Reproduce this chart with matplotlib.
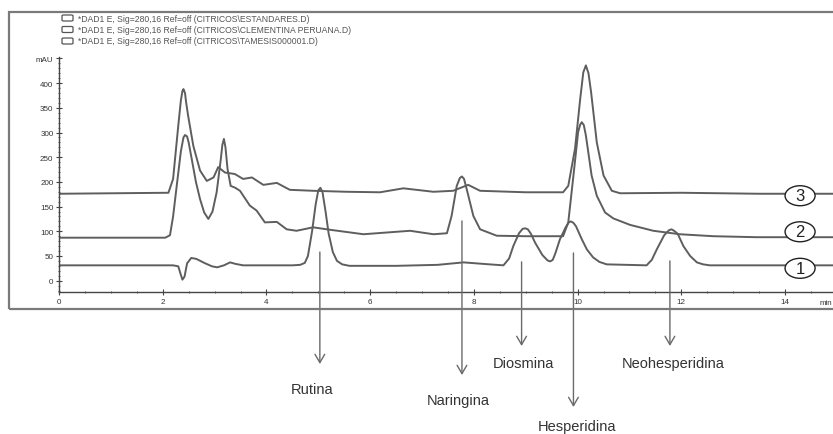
#!/usr/bin/env python3
"""Cromatograma HPLC (DAD1 E, 280 nm) de flavonoides en cítricos."""

import matplotlib

matplotlib.use("Agg")
import matplotlib.pyplot as plt
from matplotlib.patches import Ellipse, FancyBboxPatch, Rectangle

# --- datos (min, mAU) ---
t1 = [0.0, 2.2, 2.30, 2.34, 2.38, 2.42, 2.47, 2.55, 2.65, 2.8, 2.95, 3.05, 3.18,
      3.3, 3.4, 3.55, 4.5, 4.65, 4.74, 4.8, 4.88, 4.95, 5.0, 5.04, 5.08, 5.14,
      5.2, 5.28, 5.36, 5.46, 5.6, 6.5, 7.3, 7.8, 8.3, 8.57, 8.68, 8.76, 8.87,
      8.94, 8.99, 9.04, 9.1, 9.18, 9.32, 9.42, 9.47, 9.52, 9.57, 9.66, 9.77,
      9.83, 9.87, 9.92, 9.97, 10.08, 10.18, 10.30, 10.42, 10.56, 11.33, 11.43,
      11.53, 11.67, 11.76, 11.81, 11.86, 11.93, 12.04, 12.17, 12.30, 12.42,
      12.55, 15.0]
y1 = [31, 31, 29, 15, 2, 8, 35, 46, 44, 36, 29, 27, 31,
      37, 34, 31, 31, 32, 36, 50, 100, 155, 183, 188, 180, 140,
      95, 58, 40, 33, 30, 30, 32, 37, 33, 31, 45, 70, 96,
      105, 106, 104, 95, 77, 52, 41, 39, 42, 55, 84, 108,
      118, 120, 117, 110, 84, 63, 47, 38, 33, 31, 42,
      64, 92, 102, 104, 101, 95, 70, 50, 37, 33,
      31, 31]

t2 = [0.0, 2.05, 2.14, 2.20, 2.27, 2.35, 2.40, 2.43, 2.47, 2.50, 2.56, 2.64, 2.72,
      2.80, 2.88, 2.96, 3.04, 3.12, 3.15, 3.18, 3.21, 3.25, 3.31, 3.40, 3.49,
      3.68, 3.81, 3.97, 4.2, 4.39, 4.58, 4.90, 5.23, 5.87, 6.77, 7.22, 7.48,
      7.57, 7.67, 7.73, 7.77, 7.81, 7.86, 7.99, 8.12, 8.44, 9.0, 9.72, 9.82,
      9.92, 10.01, 10.05, 10.08, 10.12, 10.16, 10.27, 10.37, 10.53, 10.69,
      11.01, 11.46, 11.97, 12.62, 13.45, 15.0]
y2 = [87, 87, 92, 130, 192, 262, 290, 295, 292, 280, 246, 200, 165,
      138, 125, 140, 179, 246, 275, 287, 270, 226, 192, 188, 182,
      152, 142, 118, 119, 104, 101, 108, 103, 94, 101, 94, 96,
      131, 192, 208, 211, 206, 186, 131, 104, 91, 90, 90, 118,
      213, 301, 316, 321, 315, 294, 213, 172, 138, 126,
      113, 101, 94, 90, 88, 88]

t3 = [0.0, 2.11, 2.20, 2.25, 2.30, 2.35, 2.38, 2.40, 2.43, 2.45, 2.49, 2.59, 2.72,
      2.85, 2.98, 3.07, 3.20, 3.39, 3.55, 3.72, 3.94, 4.2, 4.45, 4.9, 5.55,
      6.19, 6.64, 7.22, 7.60, 7.89, 8.12, 9.0, 9.72, 9.82, 9.95, 10.05, 10.11,
      10.16, 10.21, 10.26, 10.37, 10.50, 10.66, 10.82, 12.0, 13.5, 15.0]
y3 = [176, 178, 206, 260, 314, 365, 384, 388, 380, 362, 334, 273, 223,
      202, 209, 230, 219, 216, 206, 209, 194, 198, 184, 182, 180,
      179, 187, 180, 182, 194, 182, 179, 179, 192, 267, 368, 422,
      436, 420, 382, 280, 213, 182, 177, 178, 176, 176]

legend_labels = [
    "*DAD1 E, Sig=280,16 Ref=off (CITRICOS\\ESTANDARES.D)",
    "*DAD1 E, Sig=280,16 Ref=off (CITRICOS\\CLEMENTINA PERUANA.D)",
    "*DAD1 E, Sig=280,16 Ref=off (CITRICOS\\TAMESIS000001.D)",
]
trace_tags = ["1", "2", "3"]

compounds = ["Rutina", "Naringina", "Diosmina", "Hesperidina", "Neohesperidina"]
compound_rt = [5.03, 7.77, 8.92, 9.92, 11.78]

W, H = 833, 435
LINE = "#5e5e5e"
TEXT = "#333333"


def fx(px):
    return px / W


def fy(py):
    return 1 - py / H


def main():
    plt.rcParams["font.family"] = ["Liberation Sans", "DejaVu Sans"]
    fig = plt.figure(figsize=(W / 100, H / 100), dpi=100)

    # marco exterior
    fig.patches.append(Rectangle((fx(9), fy(310)), 1.2, fy(13) - fy(310),
                                 transform=fig.transFigure, fill=False,
                                 edgecolor="#7a7a7a", linewidth=1.6))

    ax = fig.add_axes([fx(59), fy(293), 1 - fx(59), fy(58) - fy(293)])
    ax.set_facecolor("none")
    ax.set_xlim(0, (W - 59) / 51.86)
    ax.set_ylim(-23, 453)

    for t, y in ((t1, y1), (t2, y2), (t3, y3)):
        ax.plot(t, y, color=LINE, linewidth=1.4, solid_joinstyle="round")

    for sp in ("top", "right"):
        ax.spines[sp].set_visible(False)
    for sp in ("left", "bottom"):
        ax.spines[sp].set_color("#444444")
        ax.spines[sp].set_linewidth(1.0)

    ax.set_xticks(range(0, 15, 2))
    ax.set_xticks([i * 0.5 for i in range(0, 30)], minor=True)
    ax.set_yticks(range(0, 451, 50))
    ax.set_yticklabels([str(v) for v in range(0, 401, 50)] + ["mAU"])
    ax.set_yticks(range(-20, 451, 10), minor=True)
    ax.tick_params(which="major", direction="inout", length=4, width=0.8,
                   colors="#444444", labelsize=5.8, labelcolor=TEXT, pad=2)
    ax.tick_params(which="minor", direction="inout", length=2, width=0.6,
                   colors="#444444")
    fig.text(fx(832), fy(304), "min", ha="right", va="center", fontsize=5.8,
             color=TEXT)

    # etiquetas de trazas en elipses
    for tag, yc in zip(trace_tags, [25, 99, 172]):
        ax.add_patch(Ellipse((14.29, yc), 30 / 51.86, 20 / 0.494,
                             facecolor="white", edgecolor="#222222",
                             linewidth=1.0, zorder=5))
        ax.text(14.29, yc, tag, ha="center", va="center", fontsize=12,
                color="#222222", zorder=6)

    # leyenda
    for i, lab in enumerate(legend_labels):
        yc = [19, 30.5, 42][i]
        fig.patches.append(FancyBboxPatch((fx(62), fy(yc + 3)), fx(11), 6 / H,
                                          boxstyle="round,pad=0,rounding_size=0.002",
                                          transform=fig.transFigure, fill=False,
                                          edgecolor="#555555", linewidth=0.9))
        fig.text(fx(78), fy(yc), lab, ha="left", va="center", fontsize=6.2,
                 color="#555555")

    # flechas de compuestos
    starts = [58, 121, 38, 56, 40]
    tips = [365, 376, 347, 408, 347]
    label_xy = [(312, 390), (458, 401), (523, 364), (577, 427), (673, 364)]
    for name, rt, y0, tip, (lx, ly) in zip(compounds, compound_rt, starts, tips, label_xy):
        ax.annotate("", xy=(rt, fy(tip)), xycoords=("data", "figure fraction"),
                    xytext=(rt, y0), textcoords="data",
                    arrowprops=dict(arrowstyle="->,head_length=0.6,head_width=0.35",
                                    color="#6a6a6a", linewidth=1.0,
                                    shrinkA=0, shrinkB=0),
                    annotation_clip=False)
        fig.text(fx(lx), fy(ly), name, ha="center", va="center",
                 fontsize=10.5, color=TEXT)

    fig.savefig("out.png", dpi=100, facecolor="white")
    plt.close(fig)


if __name__ == "__main__":
    main()
